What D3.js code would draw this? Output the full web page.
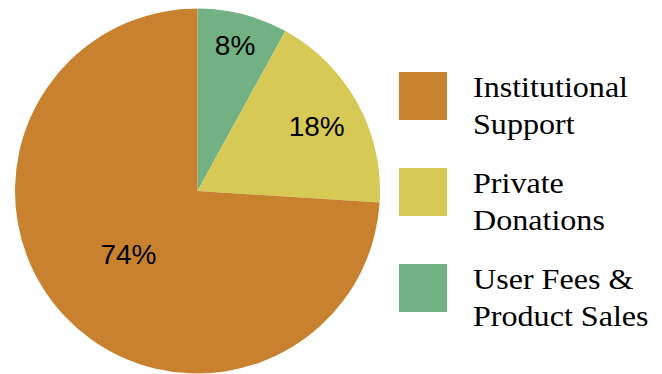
<!DOCTYPE html>
<html><head><meta charset="utf-8">
<script src="https://cdn.jsdelivr.net/npm/d3@7"></script>
<style>body{margin:0;background:#fff;}svg{display:block;}</style>
</head><body>
<svg id="chart" width="662" height="374"></svg>
<script>
const categories = ["User Fees & Product Sales", "Private Donations", "Institutional Support"];
const values = [8, 18, 74];
const labels = ["8%", "18%", "74%"];
const legendOrder = ["Institutional Support", "Private Donations", "User Fees & Product Sales"];
const legendLines = [["Institutional", "Support"], ["Private", "Donations"], ["User Fees &", "Product Sales"]];
const colors = ["#72B183", "#D7C955", "#C8822F"];

const svg = d3.select("#chart");
const cx = 197.5, cy = 191, R = 182.5;
const color = d3.scaleOrdinal().domain(categories).range(colors);
const pie = d3.pie().sort(null).value(d => d.v);
const data = categories.map((c, i) => ({c, v: values[i], l: labels[i]}));
const arcs = pie(data);
const arc = d3.arc().innerRadius(0).outerRadius(R);
const g = svg.append("g").attr("transform", `translate(${cx},${cy})`);
g.selectAll("path").data(arcs).join("path")
  .attr("d", arc).attr("fill", d => color(d.data.c));

const labelRadii = [151, 136, 92];
g.selectAll("text").data(arcs).join("text")
  .attr("transform", (d, i) => {
    const a = (d.startAngle + d.endAngle) / 2;
    const r = labelRadii[i];
    return `translate(${r * Math.sin(a) - (i === 2 ? 2 : 0)},${-r * Math.cos(a)})`;
  })
  .attr("dy", "0.36em")
  .attr("text-anchor", "middle")
  .style("font-family", "'Liberation Sans', Arial, sans-serif")
  .style("font-size", "28px")
  .attr("fill", "#000")
  .text(d => d.data.l);

const ly = d3.scalePoint().domain(legendOrder).range([96, 288]);
const lg = svg.append("g");
const items = lg.selectAll("g").data(legendOrder).join("g")
  .attr("transform", d => `translate(399,${ly(d)})`);
items.append("rect").attr("x", 0).attr("y", -24).attr("width", 48).attr("height", 48)
  .attr("fill", d => color(d));
items.append("text")
  .attr("transform", "translate(74,1) scale(1.07,1)")
  .style("font-family", "'Liberation Serif', 'Times New Roman', serif")
  .style("font-size", "30px")
  .attr("fill", "#000")
  .each(function(d, i) {
    const t = d3.select(this);
    legendLines[i].forEach((line, j) => {
      t.append("tspan").attr("x", 0).attr("dy", j === 0 ? 0 : 37).text(line);
    });
  });
</script>
</body></html>
